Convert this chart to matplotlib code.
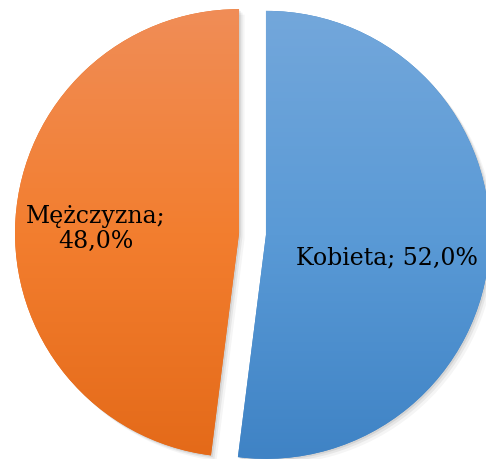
import numpy as np
import matplotlib
matplotlib.use("Agg")
import matplotlib.pyplot as plt
from matplotlib import patheffects as pe
from matplotlib.colors import to_rgb

categories = ["Kobieta", "Mężczyzna"]
values = [52.0, 48.0]
top_colors = ["#73A7DB", "#F08D57"]
mid_colors = ["#5A9AD6", "#F37E2F"]
bottom_colors = ["#3F83C5", "#E46A19"]

W, H = 486, 459
fig = plt.figure(figsize=(W / 100, H / 100), dpi=100)
ax = fig.add_axes([0, 0, 1, 1])

radius = 224
center = (252.5, 225)
wedges, _ = ax.pie(values, startangle=90, counterclock=False, radius=radius,
                   center=center, explode=[13.5, 13.5], frame=True,
                   wedgeprops=dict(linewidth=0))
ax.set_xlim(0, W)
ax.set_ylim(0, H)
ax.set_aspect("equal")
ax.axis("off")

for w, tc, mc, bc in zip(wedges, top_colors, mid_colors, bottom_colors):
    w.set_facecolor(bc)
    w.set_path_effects([
        pe.SimplePatchShadow(offset=(4, -4), shadow_rgbFace="#000000", alpha=0.04),
        pe.SimplePatchShadow(offset=(2.5, -2.5), shadow_rgbFace="#000000", alpha=0.06),
        pe.SimplePatchShadow(offset=(1.2, -1.2), shadow_rgbFace="#000000", alpha=0.08),
        pe.Normal()])
    t = np.array(to_rgb(tc)); m = np.array(to_rgb(mc)); b = np.array(to_rgb(bc))
    y0 = w.center[1] - radius
    y1 = w.center[1] + radius
    n = 256
    frac = np.linspace(0, 1, n)
    grad = np.empty((n, 3))
    for k in range(3):
        grad[:, k] = np.interp(frac, [0, 0.5, 1], [t[k], m[k], b[k]])
    img = np.repeat(grad[:, None, :], 2, axis=1)
    im = ax.imshow(img, extent=(w.center[0] - radius, w.center[0] + radius, y0, y1),
                   origin="upper", aspect="auto", interpolation="bilinear",
                   zorder=w.get_zorder() + 0.1)
    im.set_clip_path(w)

ax.set_xlim(0, W)
ax.set_ylim(0, H)

def fmt(v):
    return f"{v:.1f}%".replace(".", ",")

font = dict(family="DejaVu Serif", fontsize=17, color="black", zorder=10)
ax.text(387, 201, f"{categories[0]}; {fmt(values[0])}", ha="center", va="center", **font)
ax.text(96, 230, f"{categories[1]};\n{fmt(values[1])}", ha="center", va="center",
        linespacing=1.1, **font)

fig.savefig("out.png", dpi=100)
